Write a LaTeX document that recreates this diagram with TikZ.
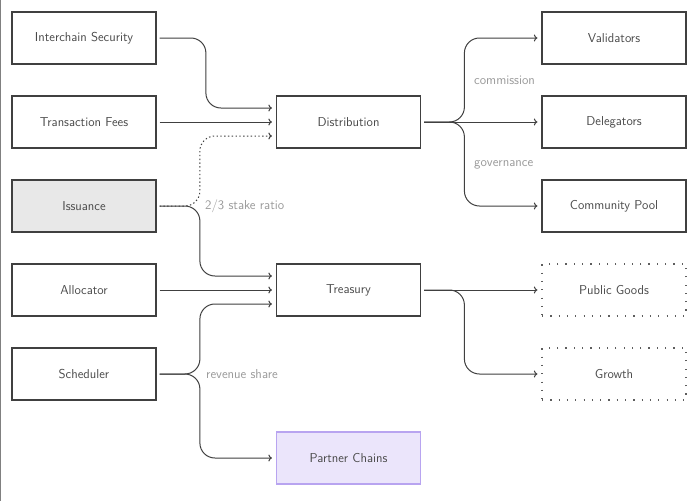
\documentclass[tikz,border=0pt]{standalone}
\usetikzlibrary{arrows.meta}
\definecolor{boxline}{HTML}{404040}
\definecolor{txt}{HTML}{4A4A4A}
\definecolor{lab}{HTML}{9A9A9A}
\definecolor{pcline}{HTML}{B8A4F0}
\definecolor{pcfill}{HTML}{EBE5FB}
\definecolor{issfill}{HTML}{E8E8E8}
\begin{document}
\begin{tikzpicture}[x=1pt,y=-1pt,
  box/.style={draw=boxline, line width=1.2pt, minimum width=144pt, minimum height=52pt,
    text=txt, font=\sffamily\fontsize{12.9}{15}\selectfont, inner sep=0pt},
  dotbox/.style={box, draw=boxline!85, line width=1.2pt, dash pattern=on 1.2pt off 7.1pt},
  flow/.style={draw=boxline, line width=1pt, -{To[length=3.5pt,width=7pt]}, rounded corners=15pt,
    shorten >=4pt, shorten <=3pt},
  dotflow/.style={flow, dash pattern=on 1.4pt off 2.4pt},
  lbl/.style={text=lab, font=\sffamily\fontsize{13}{15}\selectfont, anchor=west, inner sep=0pt}]
\useasboundingbox (0,0) rectangle (697,501);
\fill[white] (0,0) rectangle (697,501);
\draw[gray, line width=1.4pt] (0.7,0) -- (0.7,501);

% left column
\node[box] (ics) at (84,38) {Interchain Security};
\node[box] (tf)  at (84,122) {Transaction Fees};
\node[box, fill=issfill] (iss) at (84,206) {Issuance};
\node[box] (alloc) at (84,290) {Allocator};
\node[box] (sch) at (84,374) {Scheduler};

% middle column
\node[box] (dist) at (348.5,122) {Distribution};
\node[box] (treas) at (348.5,290) {Treasury};
\node[box, draw=pcline, fill=pcfill] (pc) at (348.5,458) {Partner Chains};

% right column
\node[box] (val) at (614,38) {Validators};
\node[box] (del) at (614,122) {Delegators};
\node[box] (cp) at (614,206) {Community Pool};
\node[dotbox] (pg) at (614,290) {Public Goods};
\node[dotbox] (gr) at (614,374) {Growth};

% into Distribution
\draw[flow] (ics.east) -| ([xshift=-70pt,yshift=14pt]dist.west) -- ([yshift=14pt]dist.west);
\draw[flow] (tf.east) -- (dist.west);
\draw[dotflow] (iss.east) -| ([xshift=-76pt,yshift=-14pt]dist.west) -- ([yshift=-14pt]dist.west);

% into Treasury
\draw[flow] (iss.east) -| ([xshift=-76pt,yshift=14pt]treas.west) -- ([yshift=14pt]treas.west);
\draw[flow] (alloc.east) -- (treas.west);
\draw[flow] (sch.east) -| ([xshift=-76pt,yshift=-14pt]treas.west) -- ([yshift=-14pt]treas.west);

% Partner chains
\draw[flow] (sch.east) -| ([xshift=-76pt]pc.west) -- (pc.west);

% out of Distribution
\draw[flow] (dist.east) -| ([xshift=-77pt]val.west) -- (val.west);
\draw[flow] (dist.east) -- (del.west);
\draw[flow] (dist.east) -| ([xshift=-77pt]cp.west) -- (cp.west);

% out of Treasury
\draw[flow] (treas.east) -- (pg.west);
\draw[flow] (treas.east) -| ([xshift=-77pt]gr.west) -- (gr.west);

% labels
\node[lbl] (l1) at (205,206) {2/3 stake ratio};
\node[lbl] (l2) at (206,374) {revenue share};
\node[lbl] (l3) at (474,80) {commission};
\node[lbl] (l4) at (474,165) {governance};
\end{tikzpicture}
\end{document}
